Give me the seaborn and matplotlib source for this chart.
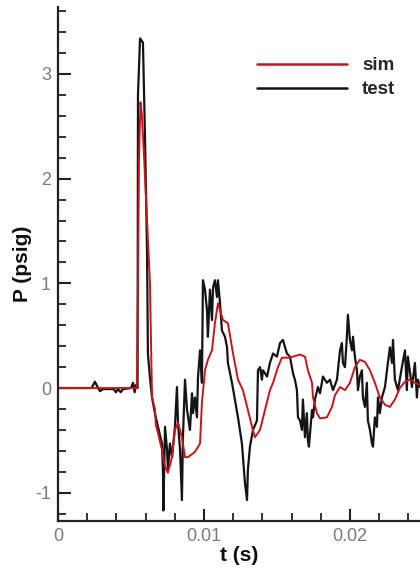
import matplotlib
matplotlib.use("Agg")
import matplotlib.pyplot as plt
import seaborn as sns
import pandas as pd
from matplotlib.ticker import MultipleLocator

# ---- data (t in ms, P in psig) ----
sim_t_ms = [0, 5.40, 5.48, 5.55, 5.65, 5.75, 5.9, 6.1, 6.3, 6.44, 6.64, 6.7, 6.85, 7.12, 7.33,
            7.53, 7.81, 8.01, 8.22, 8.49, 8.70, 8.90, 9.38, 9.73, 9.86, 10.07, 10.27, 10.55,
            10.75, 10.96, 11.30, 11.64, 11.99, 12.33, 12.67, 13.01, 13.29, 13.49, 13.84,
            14.18, 14.52, 14.73, 15.07, 15.34, 15.75, 16.10, 16.58, 16.92, 17.12, 17.40,
            17.47, 17.74, 17.95, 18.42, 18.77, 18.97, 19.32, 19.66, 20.00, 20.34, 20.68,
            21.03, 21.37, 21.71, 22.05, 22.40, 22.74, 23.08, 23.42, 23.77, 24.11, 24.45, 24.79]
sim_p = [0, 0, 1.0, 2.2, 2.73, 2.6, 2.2, 1.6, 1.0, -0.09, -0.2, -0.35, -0.43, -0.59, -0.75,
         -0.81, -0.66, -0.40, -0.33, -0.47, -0.66, -0.66, -0.61, -0.53, -0.14, 0.17, 0.27, 0.36,
         0.62, 0.81, 0.65, 0.62, 0.33, 0.08, -0.02, -0.21, -0.37, -0.47, -0.40,
         -0.21, -0.02, 0.05, 0.20, 0.29, 0.29, 0.30, 0.32, 0.30, 0.17, 0.05,
         -0.09, -0.24, -0.29, -0.28, -0.18, -0.07, 0.01, -0.02, 0.05, 0.20, 0.27,
         0.25, 0.17, 0.05, -0.09, -0.16, -0.18, -0.11, 0.0, 0.06, 0.08, 0.05, 0.03]

test_t_ms = [0, 2.3, 2.53, 2.75, 2.88, 3.08, 3.8, 3.97, 4.1, 4.3, 4.45, 5.0, 5.14, 5.25, 5.34,
             5.45, 5.48, 5.62, 5.82, 5.96, 6.10, 6.16, 6.30, 6.44, 6.64, 6.85, 7.12, 7.19, 7.22,
             7.33, 7.47, 7.53, 7.67, 7.81, 8.01, 8.15, 8.22, 8.36, 8.49, 8.56, 8.70, 8.84, 9.04,
             9.18, 9.25, 9.38, 9.52, 9.59, 9.73, 9.86, 9.93, 10.07, 10.21, 10.27, 10.41, 10.55,
             10.62, 10.75, 10.89, 10.96, 11.10, 11.23, 11.44, 11.58, 11.64, 11.92, 12.12, 12.33,
             12.60, 12.67, 12.81, 12.95, 13.01, 13.15, 13.36, 13.63, 13.70, 13.84, 13.97, 14.04,
             14.32, 14.52, 14.73, 15.00, 15.21, 15.41, 15.68, 15.89, 16.10, 16.23, 16.37, 16.44,
             16.58, 16.71, 16.78, 16.92, 17.05, 17.12, 17.19, 17.40, 17.47, 17.60, 17.81, 17.95,
             18.15, 18.42, 18.63, 18.84, 19.11, 19.32, 19.45, 19.52, 19.66, 19.79, 19.86, 20.00,
             20.14, 20.21, 20.34, 20.48, 20.55, 20.68, 20.82, 20.89, 21.03, 21.16, 21.23, 21.37,
             21.51, 21.58, 21.71, 21.85, 21.92, 22.05, 22.19, 22.40, 22.60, 22.74, 22.88, 22.95,
             23.08, 23.29, 23.56, 23.77, 23.90, 23.97, 24.25, 24.45, 24.59, 24.66, 24.79]
test_p = [0, 0, 0.06, 0.0, -0.03, -0.01, -0.01, -0.04, -0.01, -0.04, -0.01, 0.0, 0.05, -0.04, 0.03,
          0.0, 2.8, 3.34, 3.30, 2.4, 1.3, 0.33, 0.1, -0.09, -0.24, -0.37, -0.53, -0.78, -1.17,
          -0.37, -0.59, -0.78, -0.53, -0.66, -0.37, 0.01, -0.33, -0.59, -1.07, -0.47, 0.08, -0.21, -0.40,
          -0.05, -0.24, -0.09, -0.28, 0.10, 0.36, 0.05, 1.03, 0.94, 0.74, 0.49, 0.94, 0.65,
          0.96, 1.03, 0.87, 1.03, 0.81, 0.55, 0.49, 0.39, 0.24, 0.05, -0.11, -0.28,
          -0.53, -0.66, -0.91, -1.07, -0.78, -0.56, -0.40, -0.31, 0.17, 0.20, 0.08, 0.17,
          0.11, 0.24, 0.33, 0.30, 0.43, 0.46, 0.33, 0.30, 0.14, 0.08, -0.02, -0.28,
          -0.31, -0.40, -0.11, -0.47, -0.24, -0.50, -0.56, -0.21, -0.28, -0.11, 0.01, -0.05,
          0.11, 0.05, 0.08, -0.02, 0.08, 0.36, 0.43, 0.24, 0.20, 0.49, 0.70, 0.46,
          0.36, 0.49, 0.30, 0.17, -0.02, 0.11, 0.17, -0.09, -0.18, 0.05, -0.31, -0.40,
          -0.53, -0.56, -0.28, -0.37, -0.09, -0.24, -0.09, 0.01, 0.24, 0.39, 0.24, 0.46,
          0.08, -0.02, 0.20, 0.36, -0.02, 0.30, 0.01, 0.24, -0.09, 0.08, 0.01]

series_labels = ["sim", "test"]
x_tick_values = [0, 0.01, 0.02]
x_tick_labels = ["0", "0.01", "0.02"]
y_tick_values = [-1, 0, 1, 2, 3]

sim_df = pd.DataFrame({"t": [v / 1000 for v in sim_t_ms], "P": sim_p})
test_df = pd.DataFrame({"t": [v / 1000 for v in test_t_ms], "P": test_p})

sns.set_style("ticks")
plt.rcParams["font.family"] = ["Liberation Sans", "DejaVu Sans"]
plt.rcParams["axes.unicode_minus"] = False

fig = plt.figure(figsize=(4.2, 5.74), dpi=100)
ax = fig.add_axes([58 / 420, 53 / 574, 362 / 420, 514 / 574])

sns.lineplot(data=test_df, x="t", y="P", ax=ax, color="#141414", linewidth=1.6,
             estimator=None, sort=False, label=series_labels[1])
sns.lineplot(data=sim_df, x="t", y="P", ax=ax, color="#c8141a", linewidth=1.4,
             estimator=None, sort=False, label=series_labels[0])

ax.set_xlim(0, 0.0248)
ax.set_ylim(-1.27, 3.64)
ax.set_xticks(x_tick_values)
ax.set_xticklabels(x_tick_labels)
ax.set_yticks(y_tick_values)
ax.xaxis.set_minor_locator(MultipleLocator(0.002))
ax.yaxis.set_minor_locator(MultipleLocator(0.2))

for side in ["top", "right"]:
    ax.spines[side].set_visible(False)
for side in ["left", "bottom"]:
    ax.spines[side].set_linewidth(1.6)
    ax.spines[side].set_color("#222222")

ax.tick_params(which="major", direction="in", length=9, width=1.5, color="#222222",
               labelsize=13, labelcolor="#7a7a7a", pad=5)
ax.tick_params(which="minor", direction="in", length=6, width=1.3, color="#222222")

ax.set_xlabel("t (s)", fontsize=15, fontweight="bold", color="#111111", labelpad=1)
ax.set_ylabel("P (psig)", fontsize=15, fontweight="bold", color="#111111", labelpad=2)

handles, labels = ax.get_legend_handles_labels()
order = [labels.index(s) for s in series_labels]
leg = ax.legend([handles[i] for i in order], [labels[i] for i in order],
                loc="upper left", bbox_to_anchor=(0.55, 0.902), frameon=False,
                borderpad=0, borderaxespad=0, handlelength=4.8, handletextpad=0.8,
                labelspacing=0.36, prop={"size": 13.5, "weight": "bold"})
for line in leg.get_lines():
    line.set_linewidth(1.8)

fig.savefig("out.png", dpi=100)
